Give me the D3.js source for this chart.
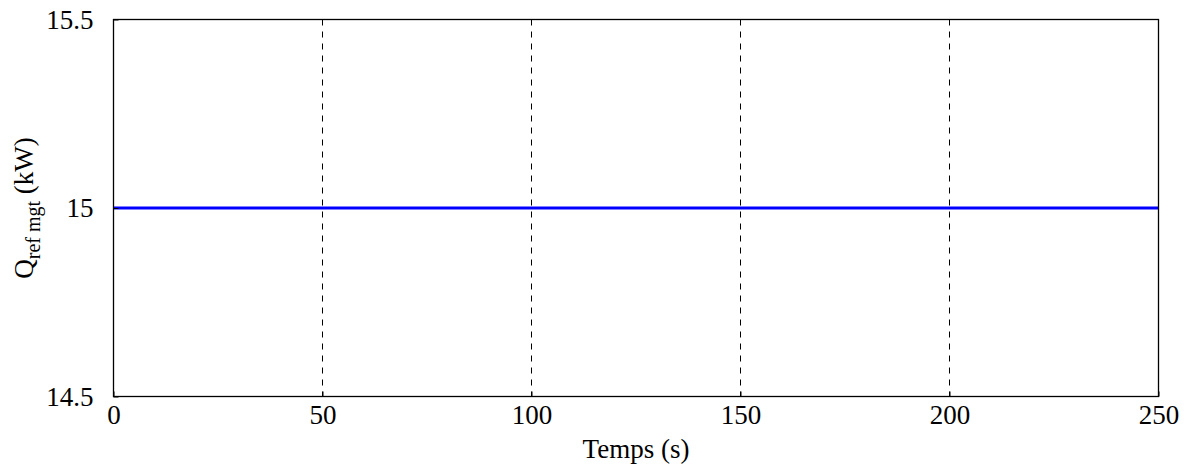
<!DOCTYPE html>
<html>
<head>
<meta charset="utf-8">
<script src="https://cdn.jsdelivr.net/npm/d3@7"></script>
<style>
html,body{margin:0;padding:0;background:#fff;}
svg{display:block;}
svg text{font-family:"Liberation Serif","Times New Roman",serif !important;fill:#000;}
</style>
</head>
<body>
<svg id="chart" width="1187" height="465"></svg>
<script>
const timeValues = [0, 250];
const qrefValues = [15, 15];
const xTicks = [0, 50, 100, 150, 200, 250];
const yTicks = [14.5, 15, 15.5];
const xLabel = "Temps (s)";

const svg = d3.select("#chart");
const margin = {left: 113.5, right: 1158.5, top: 19.5, bottom: 396.5};
const FS = 27;

const x = d3.scaleLinear().domain([0, 250]).range([margin.left, margin.right]);
const y = d3.scaleLinear().domain([14.5, 15.5]).range([margin.bottom, margin.top]);

// grid
const grid = svg.append("g");
grid.selectAll("line.vg").data(xTicks.filter(d => d > 0 && d < 250)).join("line")
  .attr("x1", d => x(d)).attr("x2", d => x(d))
  .attr("y1", margin.top).attr("y2", margin.bottom)
  .attr("stroke", "#000").attr("stroke-width", 1).attr("stroke-dasharray", "6,6");
grid.selectAll("line.hg").data(yTicks.filter(d => d > 14.5 && d < 15.5)).join("line")
  .attr("x1", margin.left).attr("x2", margin.right)
  .attr("y1", d => y(d)).attr("y2", d => y(d))
  .attr("stroke", "#000").attr("stroke-width", 1).attr("stroke-dasharray", "6,6");

// data line
const data = timeValues.map((t, i) => ({t, q: qrefValues[i]}));
svg.append("path").datum(data)
  .attr("d", d3.line().x(d => x(d.t)).y(d => y(d.q)))
  .attr("fill", "none").attr("stroke", "#0000ff").attr("stroke-width", 3);

// frame
svg.append("rect")
  .attr("x", margin.left).attr("y", margin.top)
  .attr("width", margin.right - margin.left).attr("height", margin.bottom - margin.top)
  .attr("fill", "none").attr("stroke", "#000").attr("stroke-width", 1.3);

// axes
const xAxis = svg.append("g").attr("transform", `translate(0,${margin.bottom})`)
  .call(d3.axisBottom(x).tickValues(xTicks).tickFormat(d3.format("d")).tickSizeInner(-5).tickSizeOuter(0).tickPadding(8));
xAxis.select(".domain").remove();
xAxis.attr("font-size", FS).attr("font-family", null);
xAxis.selectAll("text").style("font-size", FS + "px").attr("dy", "0.71em");
xAxis.selectAll("line").attr("stroke", "#000");

const yAxis = svg.append("g").attr("transform", `translate(${margin.left},0)`)
  .call(d3.axisLeft(y).tickValues(yTicks).tickFormat(d => String(d)).tickSizeInner(-5).tickSizeOuter(0).tickPadding(20));
yAxis.select(".domain").remove();
yAxis.attr("font-size", FS).attr("font-family", null);
yAxis.selectAll("text").style("font-size", FS + "px");
yAxis.selectAll("line").attr("stroke", "#000");

// x label
svg.append("text").attr("x", (margin.left + margin.right) / 2).attr("y", 458)
  .attr("text-anchor", "middle").style("font-size", FS + "px").text(xLabel);

// y label
const yl = svg.append("text")
  .attr("transform", `translate(33,${(margin.top + margin.bottom) / 2}) rotate(-90)`)
  .attr("text-anchor", "middle").style("font-size", FS + "px");
yl.append("tspan").text("Q");
yl.append("tspan").style("font-size", "20px").attr("dy", 7).text("ref mgt");
yl.append("tspan").attr("dy", -7).text(" (kW)");
</script>
</body>
</html>
